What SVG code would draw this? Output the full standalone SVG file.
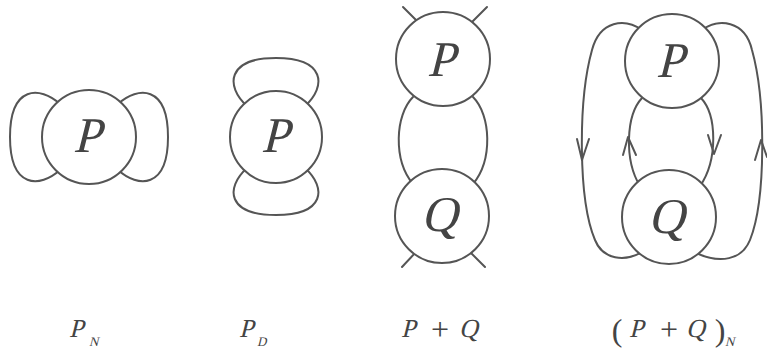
<svg xmlns="http://www.w3.org/2000/svg" width="767" height="352" viewBox="0 0 767 352">
<style>
.ln{fill:none;stroke:#555;stroke-width:2;stroke-linecap:round;stroke-linejoin:round}
.nd{fill:#fff;stroke:#555;stroke-width:2}
</style>
<rect width="767" height="352" fill="#fff"/>
<g id="connectors">
  <path class="ln" d="M60,104 C40,86 10,85 10,137 C10,189 40,188 60,170"/>
  <path class="ln" d="M118,104 C138,86 168,85 168,137 C168,189 138,188 118,170"/>
  <path class="ln" d="M247,106 C225,86 227,58 276,58 C325,58 327,86 305,106"/>
  <path class="ln" d="M247,168 C225,188 227,215 276,215 C325,215 327,188 305,168"/>
  <path class="ln" d="M413,97 C395,115 393,160 413,184"/>
  <path class="ln" d="M473,97 C491,115 493,160 473,184"/>
  <path class="ln" d="M403,7 L418,22"/>
  <path class="ln" d="M487,7 L472,22"/>
  <path class="ln" d="M402,267 L416,252"/>
  <path class="ln" d="M485,267 L470,252"/>
  <path class="ln" d="M642,98 C626,115 624,160 640,186"/>
  <path class="ln" d="M701,98 C717,115 718,160 700,186"/>
  <path class="ln" d="M642,30 C625,18 600,20 592,50 C578,100 578,200 595,240 C603,260 625,262 642,252"/>
  <path class="ln" d="M702,30 C718,18 745,20 752,50 C766,100 766,200 750,240 C742,260 720,264 696,253"/>
  <path class="ln" d="M623,155 L628,137 L636,155"/>
  <path class="ln" d="M708,135 L714,154 L721,135"/>
  <path class="ln" d="M577,139 L582,160 L589,139"/>
  <path class="ln" d="M755,160 L761,140 L767,157"/>
</g>
<g id="P1"><circle class="nd" cx="89" cy="137" r="47"/><text font-family="Liberation Serif" font-size="50" text-anchor="middle" fill="#444" transform="translate(87,152) skewX(-14)">P</text></g>
<g id="P2"><circle class="nd" cx="276" cy="137" r="46"/><text font-family="Liberation Serif" font-size="50" text-anchor="middle" fill="#444" transform="translate(275,152) skewX(-14)">P</text></g>
<g id="P3"><circle class="nd" cx="443" cy="59" r="47"/><text font-family="Liberation Serif" font-size="50" text-anchor="middle" fill="#444" transform="translate(441,76) skewX(-14)">P</text></g>
<g id="Q3"><circle class="nd" cx="442" cy="216" r="47"/><text font-family="Liberation Serif" font-size="50" text-anchor="middle" fill="#444" transform="translate(439,231) skewX(-14)">Q</text></g>
<g id="P4"><circle class="nd" cx="672" cy="61" r="47"/><text font-family="Liberation Serif" font-size="50" text-anchor="middle" fill="#444" transform="translate(670,77) skewX(-14)">P</text></g>
<g id="Q4"><circle class="nd" cx="669" cy="217" r="47"/><text font-family="Liberation Serif" font-size="50" text-anchor="middle" fill="#444" transform="translate(666,233) skewX(-14)">Q</text></g>
<g id="labels">
  <text font-family="Liberation Serif" fill="#444" font-size="26" transform="translate(69,337) skewX(-14)">P</text><text font-family="Liberation Serif" fill="#444" font-size="13" transform="translate(89,346) skewX(-14)">N</text>
  <text font-family="Liberation Serif" fill="#444" font-size="26" transform="translate(239,337) skewX(-14)">P</text><text font-family="Liberation Serif" fill="#444" font-size="13" transform="translate(257,346) skewX(-14)">D</text>
  <text font-family="Liberation Serif" fill="#444" font-size="26" transform="translate(401,337) skewX(-14)">P</text>
  <text font-family="Liberation Serif" fill="#444" font-size="32" text-anchor="middle" x="440" y="340">+</text>
  <text font-family="Liberation Serif" fill="#444" font-size="26" transform="translate(459,337) skewX(-14)">Q</text>
  <text font-family="Liberation Serif" fill="#444" font-size="32" text-anchor="middle" x="617" y="341">(</text>
  <text font-family="Liberation Serif" fill="#444" font-size="26" transform="translate(629,337) skewX(-14)">P</text>
  <text font-family="Liberation Serif" fill="#444" font-size="32" text-anchor="middle" x="669" y="340">+</text>
  <text font-family="Liberation Serif" fill="#444" font-size="26" transform="translate(686,337) skewX(-14)">Q</text>
  <text font-family="Liberation Serif" fill="#444" font-size="32" text-anchor="middle" x="720" y="341">)</text>
  <text font-family="Liberation Serif" fill="#444" font-size="13" transform="translate(725,346) skewX(-14)">N</text>
</g>
</svg>
